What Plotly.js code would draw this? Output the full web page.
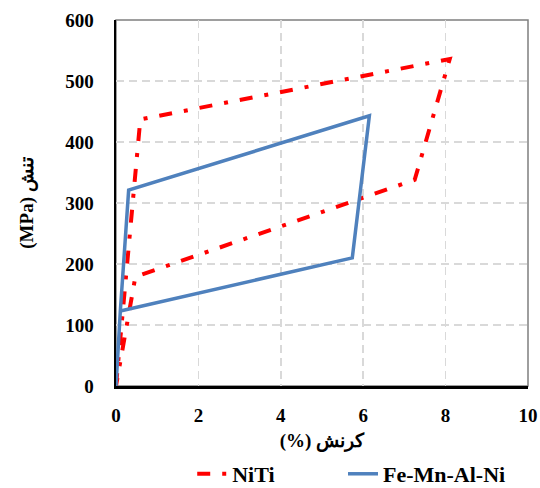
<!DOCTYPE html>
<html>
<head>
<meta charset="utf-8">
<script src="https://cdn.plot.ly/plotly-3.0.1.min.js"></script>
<style>
html,body{margin:0;padding:0;background:#fff;}
#chart{width:540px;height:488px;}
</style>
</head>
<body>
<div id="chart"></div>
<script>
// Data
const seriesNames = ["NiTi", "Fe-Mn-Al-Ni"];
const nitiStrain = [0, 0.59, 8.10, 7.25, 0.47, 0];
const nitiStress = [0, 437, 536, 338, 179, 0];
const femnStrain = [0, 0.105, 0.307, 6.15, 5.735, 0.105];
const femnStress = [0, 123, 321, 443, 210, 123];
const xTicks = [0, 2, 4, 6, 8, 10];
const yTicks = [0, 100, 200, 300, 400, 500, 600];
const xTitle = "(%) کرنش";
const yTitle = "(MPa) تنش";

const fontFam = "Liberation Serif, Times New Roman, serif";
const legendFont = {family: fontFam, size: 22, color: "#000", weight: "bold"};

const traces = [
  {
    x: nitiStrain, y: nitiStress, name: seriesNames[0],
    mode: "lines", type: "scatter", legend: "legend",
    line: {color: "#FF0000", width: 4, dash: "13px,12px,4px,12px"},
    hoverinfo: "skip"
  },
  {
    x: femnStrain, y: femnStress, name: seriesNames[1],
    mode: "lines", type: "scatter", legend: "legend2",
    line: {color: "#4F81BD", width: 3.5},
    hoverinfo: "skip"
  }
];

const layout = {
  width: 540, height: 488,
  margin: {l: 116, r: 12, t: 20, b: 102, autoexpand: false},
  paper_bgcolor: "#fff", plot_bgcolor: "#fff",
  font: {family: fontFam, size: 18, color: "#000", weight: "bold"},
  showlegend: true,
  legend: {
    orientation: "h", x: 0.185, xanchor: "left", y: -0.183, yanchor: "top",
    font: legendFont
  },
  legend2: {
    orientation: "h", x: 0.551, xanchor: "left", y: -0.183, yanchor: "top",
    font: legendFont
  },
  xaxis: {
    range: [0, 10], tickvals: xTicks, ticktext: xTicks.map(String),
    showgrid: true, gridcolor: "#d9d9d9", gridwidth: 1.5, griddash: "8px,5px",
    zeroline: false, showline: true, linecolor: "#000", linewidth: 3,
    ticks: "", ticklen: 0, ticklabelstandoff: 10,
    tickfont: {family: fontFam, size: 19, color: "#000", weight: "bold"},
    title: {text: xTitle, font: {family: fontFam, size: 19, color: "#000", weight: "bold"}, standoff: 9},
    automargin: false, fixedrange: true
  },
  yaxis: {
    range: [0, 600], tickvals: yTicks, ticktext: yTicks.map(String),
    showgrid: true, gridcolor: "#d9d9d9", gridwidth: 1.5, griddash: "8px,5px",
    zeroline: false, showline: true, linecolor: "#000", linewidth: 2.5,
    ticks: "", ticklen: 0, ticklabelstandoff: 16,
    tickfont: {family: fontFam, size: 19, color: "#000", weight: "bold"},
    title: {text: yTitle, font: {family: fontFam, size: 19, color: "#000", weight: "bold"}, standoff: 27},
    automargin: false, fixedrange: true
  },
  shapes: [
    {type: "rect", xref: "paper", yref: "paper", x0: 0, x1: 1, y0: 0, y1: 1,
     line: {color: "#7f7f7f", width: 1.5}, fillcolor: "rgba(0,0,0,0)", layer: "below"}
  ]
};

Plotly.newPlot("chart", traces, layout, {staticPlot: true, displayModeBar: false});
</script>
</body>
</html>
